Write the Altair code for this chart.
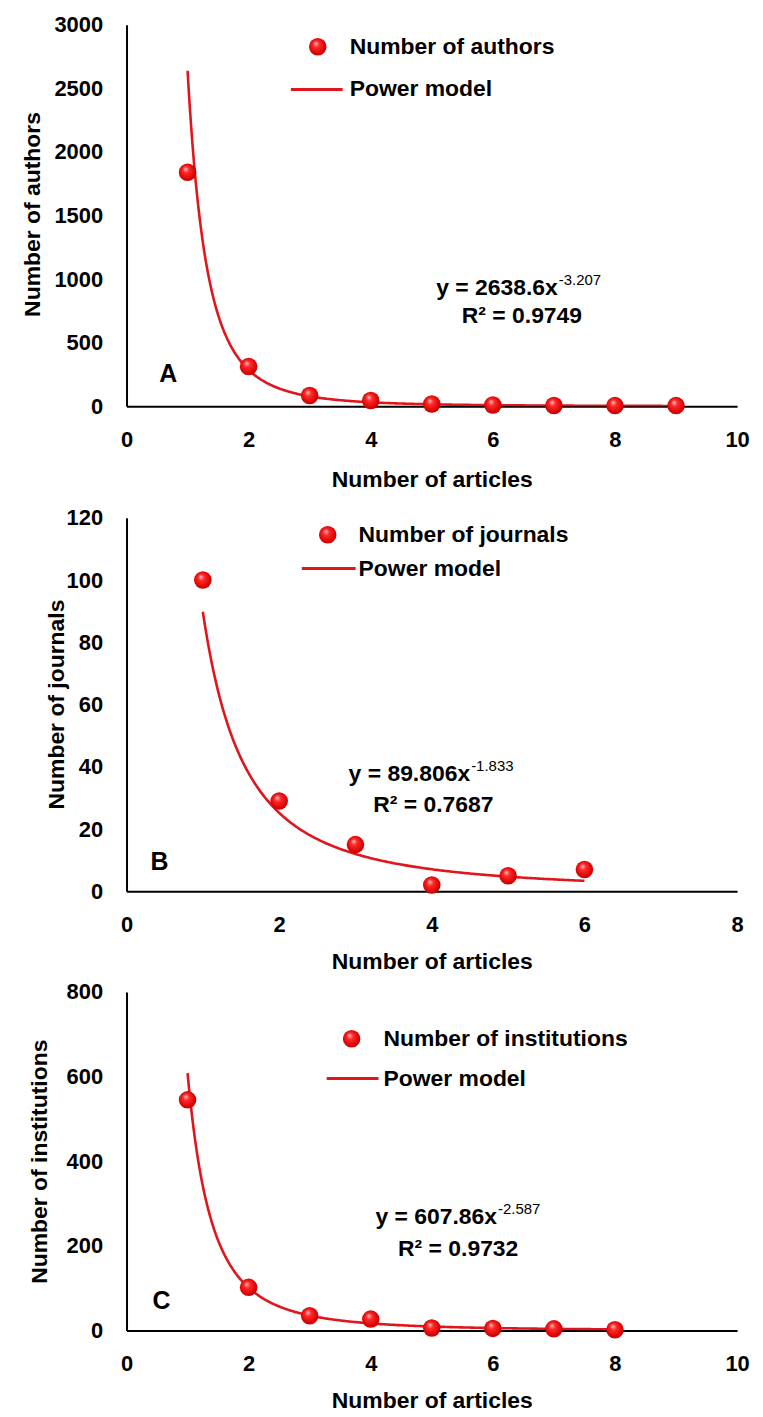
import altair as alt
import pandas as pd

# ---------------- data ----------------
ARTICLES_A = [1, 2, 3, 4, 5, 6, 7, 8, 9]
AUTHORS = [1840, 313, 84, 45, 18, 10, 6, 5, 5]

ARTICLES_B = [1, 2, 3, 4, 5, 6]
JOURNALS = [100, 29, 15, 2, 5, 7]

ARTICLES_C = [1, 2, 3, 4, 5, 6, 7, 8]
INSTITUTIONS = [545, 102, 35, 27, 6, 5, 4, 2]

# fitted power models shown in the figure: y = a * x^b
COEF_A = [2638.6, 89.806, 607.86]
EXPONENT_B = [-3.207, -1.833, -2.587]
COEF_TEXT = ["2638.6", "89.806", "607.86"]
EXP_TEXT = ["-3.207", "-1.833", "-2.587"]
R2_TEXT = ["0.9749", "0.7687", "0.9732"]

SERIES = ["Number of authors", "Number of journals", "Number of institutions"]
X_TITLE = "Number of articles"
LETTERS = ["A", "B", "C"]
X_MAX = [10, 8, 10]
X_TICKS = [[0, 2, 4, 6, 8, 10], [0, 2, 4, 6, 8], [0, 2, 4, 6, 8, 10]]
Y_MAX = [3000, 120, 800]
Y_TICKS = [[0, 500, 1000, 1500, 2000, 2500, 3000],
           [0, 20, 40, 60, 80, 100, 120],
           [0, 200, 400, 600, 800]]

# ---------------- styling ----------------
FONT = "Liberation Sans"
RED = "#e0161c"
SPHERE = alt.RadialGradient(
    gradient="radial",
    stops=[alt.GradientStop(offset=0, color="#ffc4c4"),
           alt.GradientStop(offset=0.3, color="#ff2a2a"),
           alt.GradientStop(offset=0.8, color="#d40000"),
           alt.GradientStop(offset=1, color="#a00000")],
    x1=0.38, y1=0.3, r1=0, x2=0.5, y2=0.5, r2=0.6,
)
ONE = pd.DataFrame({"k": [0]})

# layout of each panel (pixel positions inside the panel group)
LAYOUT = [
    dict(h=383, rng=[383, 0], ytx=-94, yty=190, xty=74,
         leg_pt=(192, 22), leg_line=(165, 217, 65), leg_tx=224, leg_ty2=65,
         eq=(433, 264), sup_dy=-8, r2=(397, 292), letter=(42, 351)),
    dict(h=386, rng=[386, 11], ytx=-70, yty=198, xty=71,
         leg_pt=(202, 28), leg_line=(176, 230, 62), leg_tx=233, leg_ty2=62,
         eq=(345, 268), sup_dy=-8, r2=(308, 299), letter=(33, 357)),
    dict(h=340, rng=[340, 0], ytx=-87, yty=170, xty=70,
         leg_pt=(226, 47), leg_line=(201, 253, 87), leg_tx=258, leg_ty2=87,
         eq=(372, 226), sup_dy=-8, r2=(333, 258), letter=(35, 310)),
]


def text(t, x, y, size, weight="bold", align="left"):
    return alt.Chart(ONE).mark_text(
        text=t, font=FONT, fontSize=size, fontWeight=weight, align=align,
        baseline="middle", color="black",
    ).encode(x=alt.value(x), y=alt.value(y))


def panel(i, xs, ys):
    L = LAYOUT[i]
    df = pd.DataFrame({"x": xs, "y": ys})
    xscale = alt.Scale(domain=[0, X_MAX[i]], nice=False)
    yscale = alt.Scale(domain=[0, Y_MAX[i]], nice=False, range=L["rng"])
    xaxis = alt.Axis(values=X_TICKS[i], title=X_TITLE, labelPadding=23,
                     labelFlush=False, titleY=L["xty"], titleBaseline="middle")
    yaxis = alt.Axis(values=Y_TICKS[i], title=SERIES[i], labelPadding=24,
                     format="d",
                     titleX=L["ytx"], titleY=L["yty"], titleAngle=-90,
                     titleBaseline="middle", titleAlign="center")

    xmax_data = max(xs)
    curve = alt.Chart(
        alt.sequence(min(xs), xmax_data + 0.01, 0.02, as_="x")
    ).transform_calculate(
        y=f"{COEF_A[i]} * pow(datum.x, {EXPONENT_B[i]})"
    ).mark_line(color=RED, strokeWidth=2.6, clip=True).encode(
        x=alt.X("x:Q", scale=xscale, axis=xaxis),
        y=alt.Y("y:Q", scale=yscale, axis=yaxis),
    )
    pts = alt.Chart(df).mark_circle(fill=SPHERE, size=310, opacity=1).encode(
        x=alt.X("x:Q", scale=xscale, axis=xaxis),
        y=alt.Y("y:Q", scale=yscale, axis=yaxis),
    )

    lx, ly = L["leg_pt"]
    x1, x2, lyl = L["leg_line"]
    leg_pt = alt.Chart(ONE).mark_circle(fill=SPHERE, size=310, opacity=1).encode(
        x=alt.value(lx), y=alt.value(ly))
    leg_line = alt.Chart(ONE).mark_rule(color=RED, strokeWidth=3).encode(
        x=alt.value(x1), x2=alt.value(x2), y=alt.value(lyl))
    leg_t1 = text(SERIES[i], L["leg_tx"], ly, 23)
    leg_t2 = text("Power model", L["leg_tx"], L["leg_ty2"], 23)

    ex, ey = L["eq"]
    eq_main = text(f"y = {COEF_TEXT[i]}x", ex, ey, 23, align="right")
    eq_sup = text(EXP_TEXT[i], ex + 1, ey + L["sup_dy"], 15, weight="normal")
    rx, ry = L["r2"]
    r2 = text(f"R\u00b2 = {R2_TEXT[i]}", rx, ry, 23, align="center")
    lt = text(LETTERS[i], L["letter"][0], L["letter"][1], 25, align="center")

    return alt.layer(curve, pts, leg_pt, leg_line, leg_t1, leg_t2,
                     eq_main, eq_sup, r2, lt).properties(width=613, height=L["h"])


chart = alt.vconcat(
    panel(0, ARTICLES_A, AUTHORS),
    panel(1, ARTICLES_B, JOURNALS),
    panel(2, ARTICLES_C, INSTITUTIONS),
    spacing=101,
    bounds="flush",
).properties(
    padding={"left": 14, "top": 3, "right": 5, "bottom": 5},
    background="white",
).configure_view(strokeWidth=0).configure_axis(
    labelFont=FONT, labelFontSize=22, labelFontWeight="bold", labelColor="black",
    titleFont=FONT, titleFontSize=23, titleFontWeight="bold", titleColor="black",
    domainColor="black", domainWidth=2, ticks=False, tickSize=0, grid=False,
)

chart.save("out.html", embed_options={"renderer": "svg", "actions": False})
